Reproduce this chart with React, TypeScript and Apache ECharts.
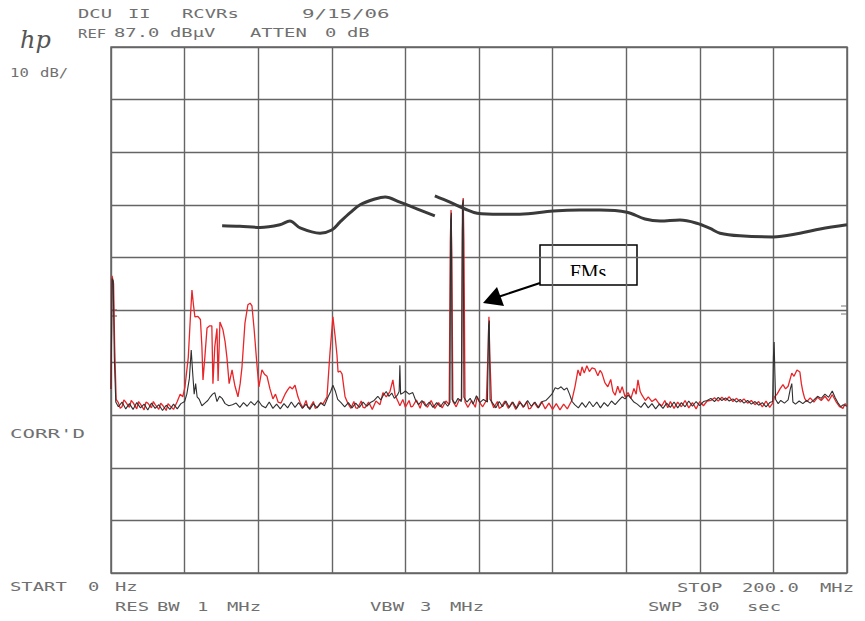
import React, { useEffect, useRef } from "react";
import * as echarts from "echarts";

// Spectrum analyser settings
const REF_LEVEL = 87; // dBµV at top graticule line
const FREQ_START = 0; // MHz
const FREQ_STOP = 200; // MHz
const FREQ_DIV = 20; // MHz / division
const DB_DIV = 10; // dB / division

// Red trace: [MHz, dBµV]
const redTrace: [number, number][] = [
  [0, 22], [0.3, 43.5], [0.7, 42], [1.0, 30], [1.4, 20], [2, 19.4], [2.5, 18.3], [3, 18.6], [3.5, 19.9], [4, 19.5], [5, 18.5], [5.5, 19.8], [6, 19.4],
  [7, 18.2], [7.5, 19.6], [8, 19.1], [9, 18.0], [9.5, 19.5], [10, 19.3], [11, 18.4], [11.5, 19.6], [12, 19.0], [13, 18.1], [13.5, 19.3], [14, 18.9], [15, 17.9], [15.5, 19.2], [16, 18.8],
  [17, 18.1], [18, 19.6], [18.8, 21], [19.5, 20.5], [20.1, 22.4], [21, 28], [21.6, 36], [22, 40.8], [22.4, 38], [22.8, 35.7],
  [23.6, 35.8], [24.3, 35.2], [24.7, 30], [25, 23.7], [25.5, 28], [26.1, 33.6], [26.8, 34], [27.4, 34], [27.7, 23], [28.2, 30],
  [28.8, 33.5], [29.1, 23.5], [29.6, 34.7], [30.4, 33.3], [31, 31], [31.5, 28], [32.1, 23], [32.9, 25.6], [33.3, 24], [33.7, 22.5],
  [34.5, 20.5], [35.1, 23], [35.6, 26.2], [36.4, 34.5], [37.2, 38], [37.8, 38.3], [38.3, 37.8], [38.9, 33.3], [39.7, 26.2], [40.2, 22.4],
  [41, 25.6], [41.7, 24.8], [42.4, 24.4], [43.2, 22], [44, 20.1], [44.7, 21], [45.4, 19.5], [46.2, 19.3], [47.3, 21], [48, 21.8],
  [48.6, 22.4], [49.3, 22], [50, 22.7], [50.8, 20.5], [51.5, 19.2], [52.2, 18.4], [53, 19.8], [53.5, 18.5], [54, 18.4], [55, 19.6], [55.5, 18.3], [56, 18.5],
  [57, 19.4], [57.6, 19.1], [58.7, 20.5], [59.5, 28.8], [60.3, 35.7], [60.9, 32], [61.4, 28.5], [61.7, 25.2], [62.3, 25.4], [62.8, 24.8],
  [63.6, 20.5], [64.4, 19.2], [65.2, 18.3], [66, 19.6], [66.5, 18.4], [67, 18.3], [68, 19.7], [68.5, 18.5], [69, 18.4], [70, 19.5], [71, 18.1], [72, 19.7],
  [73.1, 19], [73.9, 21.3], [74.8, 20.5], [75.8, 21.5], [76.6, 23.7], [77.2, 20.8], [78, 19.6], [78.5, 18.8], [79.3, 20.0], [80, 18.5],
  [81, 19.8], [81.5, 18.6], [82, 18.7], [83, 19.9], [84, 18.3], [84.5, 19.5], [85, 19.6], [86, 18.5], [87, 19.8], [88, 18.3], [89, 19.4], [90, 18.4],
  [91, 19.7], [91.9, 19.0], [92.2, 50], [92.4, 56], [92.6, 48], [92.9, 19.6], [93.8, 18.6], [94.6, 19.9], [95.3, 20], [95.5, 52],
  [95.7, 58.3], [95.9, 50], [96.2, 19.5], [97, 18.5], [98, 19.8], [99, 18.5], [99.5, 20.5], [100.3, 19.3], [101, 18.6], [102, 19.8],
  [102.5, 30], [102.7, 35.7], [102.9, 29], [103.4, 19.5], [104, 18.4], [105, 19.6], [105.5, 18.3], [106, 18.5], [107, 19.7], [108, 18.3], [109, 19.5],
  [110, 18.1], [111, 19.7], [112, 18.5], [113, 19.6], [113.5, 18.2], [114, 18.3], [115, 19.4], [116, 18.4], [117, 19.6], [118, 18.2], [119, 19.3],
  [120, 18.1], [121, 19.2], [122, 18.0], [123, 19.1], [124, 18.2], [125, 19.5], [125.3, 20], [126.1, 22.5], [126.9, 25.6], [127.5, 24.5],
  [128, 26.2], [128.6, 25], [129.3, 26.4], [130, 25.3], [130.7, 26], [131.5, 25.8], [132.3, 24.5], [132.9, 25.5], [133.4, 25], [134.2, 23.2],
  [135, 22.4], [135.8, 23.8], [136.4, 21.5], [137, 20.8], [137.7, 22.5], [138.3, 21.2], [138.9, 22.4], [139.7, 20.5], [140.5, 21.3], [141.3, 20.2],
  [142.1, 22.1], [142.7, 21], [143.2, 23.7], [143.8, 21.5], [144.3, 20.8], [145.2, 19.8], [146, 20.5], [147, 19.6], [148, 20.1], [148.9, 19.2],
  [149.7, 18.8], [150.5, 19.8], [151.3, 18.4], [152, 19.6], [153, 18.3], [154, 19.5], [155, 18.6], [156, 19.8], [157, 18.4], [158, 19.4],
  [159, 18.2], [160, 19.6], [161, 18.8], [162, 19.7], [163, 19.8], [164, 20.3], [165, 19.7], [166, 20.4], [167, 19.8], [168, 20.5],
  [169, 19.6], [170, 20.2], [171, 19.5], [172, 20.1], [173, 19.3], [174, 19.8], [175, 19.0], [176, 19.6], [177, 18.6], [178, 19.7],
  [179, 18.5], [179.8, 19.3], [180.3, 20.5], [181, 21], [181.8, 22], [182.6, 22.8], [183.3, 22], [184, 22.5], [184.6, 24], [185, 25],
  [185.6, 24.4], [186.4, 25.6], [187.2, 25.2], [187.6, 23], [188, 21.5], [188.5, 20.2], [189.1, 19.6], [190, 20.3], [191, 19.5], [192, 20.4],
  [193, 19.8], [194, 20.6], [195, 19.7], [196, 20.9], [197, 19.6], [198, 18.6], [198.9, 18.3], [199.5, 19.2], [200, 18.9],
];

// Black trace: [MHz, dBµV]
const blackTrace: [number, number][] = [
  [0, 22], [0.3, 43], [0.6, 42.5], [0.9, 28], [1.3, 19.5], [2, 18.6], [3, 19.5], [4, 18.2], [5, 19.2], [6, 18.1],
  [7, 19.4], [8, 18.4], [9, 19.1], [10, 18.0], [11, 19.3], [12, 18.3], [13, 19.0], [14, 17.9], [15, 18.9], [16, 18.1],
  [17, 19.1], [18, 18.2], [19, 19.2], [20, 19.6], [20.6, 21], [21.3, 24], [21.8, 29.4], [22.2, 25], [22.6, 21], [23, 23],
  [23.4, 20.5], [24, 20], [24.7, 18.8], [25.5, 19.3], [26.3, 19.8], [27, 20.5], [27.6, 21], [28.2, 21.3], [28.8, 19.6], [29.5, 20.6],
  [30.2, 20.2], [31, 19.2], [32, 18.8], [33, 19.0], [34, 19.3], [35, 18.5], [36, 19.4], [37, 18.7], [38, 19.6], [39, 18.9],
  [40, 19.8], [41, 18.8], [42, 18.4], [43, 19.5], [44, 18.3], [45, 19.1], [46, 18.2], [47, 19.2], [48, 18.4], [49, 19.5],
  [50, 18.5], [51, 19.4], [52, 18.3], [53, 19.1], [54, 18.1], [55, 19.2], [56, 18.4], [57, 19.3], [58, 18.8], [59, 20.5],
  [59.7, 21.5], [60.3, 22.7], [61, 21.5], [61.6, 20], [62.5, 19.4], [63.5, 18.6], [64.5, 19.4], [65.5, 18.4], [66.5, 19.3], [67.5, 18.5],
  [68.5, 19.5], [69.5, 18.7], [70.5, 19.4], [71.5, 19.8], [72.5, 20.6], [73.3, 19.9], [74, 20.8], [74.8, 21.5], [75.5, 20.6], [76.3, 21.2],
  [77, 20.2], [77.8, 20.8], [78.3, 21.5], [78.5, 26.5], [78.7, 21], [79.3, 21.2], [80, 21.6], [81, 21], [82, 21.3], [82.8, 19.8],
  [83.6, 19.0], [84.5, 19.8], [85.5, 18.7], [86.5, 19.5], [87.5, 18.5], [88.5, 19.4], [89.5, 18.6], [90.5, 19.6], [91.5, 18.7], [92.1, 19.4],
  [92.3, 54], [92.5, 55.5], [92.7, 20], [93.5, 19.2], [94.3, 20.2], [95.2, 19.6], [95.5, 57], [95.7, 58], [95.9, 20.4], [96.7, 19.5],
  [97.6, 20.2], [98.4, 19.1], [99.3, 20.7], [100.2, 19.4], [101.2, 20], [102.3, 19.5], [102.6, 34], [102.8, 35], [103, 20], [103.8, 19.2],
  [104.6, 18.4], [105.5, 19.6], [106.4, 18.6], [107.3, 19.7], [108.2, 18.5], [109.2, 19.5], [110.2, 18.3], [111.2, 19.4], [112.2, 18.6], [113.2, 19.8],
  [114.2, 18.7], [115.2, 19.5], [116.2, 18.4], [117.2, 19.6], [118.2, 19.8], [119, 20.4], [119.8, 21], [120.7, 22.2], [121.5, 22], [122.3, 22.4],
  [123.1, 21.8], [123.9, 22.2], [124.6, 21], [125.3, 19.6], [126, 19], [127, 18.4], [128, 19.4], [129, 18.5], [130, 19.6], [131, 18.6],
  [132, 19.5], [133, 18.4], [134, 19.4], [135, 18.7], [136, 19.7], [137, 19.0], [138, 19.8], [138.9, 20.5], [139.7, 20.1], [140.5, 20.8],
  [141.3, 20.2], [142.1, 19.5], [143, 19.1], [144, 18.5], [145, 19.4], [146, 18.4], [147, 19.2], [148, 18.2], [149, 19.1], [150, 18.3],
  [151, 19.3], [152, 18.5], [153, 19.5], [154, 18.4], [155, 19.4], [156, 18.6], [157, 19.7], [158, 18.7], [159, 19.6], [160, 18.8],
  [161, 19.6], [162, 19.8], [163, 20.2], [164, 19.6], [165, 20.4], [166, 19.8], [167, 20.3], [168, 19.7], [169, 20.1], [170, 19.5],
  [171, 20.0], [172, 19.3], [173, 19.8], [174, 19.1], [175, 19.6], [176, 18.9], [177, 19.4], [178, 18.6], [179, 19.4], [179.8, 19.6],
  [180, 28], [180.2, 30.9], [180.4, 25], [180.6, 20], [181.3, 19.2], [182, 19.8], [183, 19.3], [184, 19.9], [184.6, 22], [185, 23],
  [185.3, 19.5], [186, 19.1], [187, 19.7], [188, 19.2], [189, 19.8], [190, 19.3], [191, 19.9], [192, 20.6], [193, 20.2], [194, 21],
  [195, 20.4], [196, 21.6], [196.8, 20.3], [197.5, 19.4], [198.3, 18.6], [199, 19], [200, 18.7],
];

// Hand-drawn heavy curve, two pieces: [MHz, dBµV]
const curveLow: [number, number][] = [
  [30.2, 53], [35, 52.9], [40.5, 52.7], [45.9, 53.2], [48.6, 53.9], [51.4, 52.6], [56.8, 51.6], [60, 52.2],
  [62.2, 53.7], [65, 55.5], [67.7, 57], [71.7, 58.1], [74.5, 58.5], [78.5, 57.5], [84, 56], [88, 54.9],
];
const curveHigh: [number, number][] = [
  [88, 58.7], [92.1, 57.5], [96.2, 56.2], [99.5, 55.4], [105.7, 55.2], [111.1, 55.2], [120.1, 55.8], [127.4, 56],
  [132.9, 56], [140.2, 55.6], [145.1, 54.3], [149.2, 53.9], [154.6, 54.1], [159.2, 53.5], [162.8, 52.5], [165.5, 51.6],
  [170.9, 51.1], [179.9, 50.9], [187.2, 51.6], [192.7, 52.4], [200, 53.2],
];

const rel = (pts: [number, number][]) => pts.map(([f, d]) => [f, +(d - REF_LEVEL).toFixed(2)]);

const TXT = "#707070";
const GRID = "#656565";

const word = (text: string, x: number, y: number, sx = 1.45, size = 13) => ({
  type: "text",
  x,
  y,
  scaleX: sx,
  silent: true,
  style: { text, fill: TXT, font: `${size}px "DejaVu Sans Mono"`, verticalAlign: "middle" },
});

export default function App() {
  const ref = useRef<HTMLDivElement>(null);
  useEffect(() => {
    if (!ref.current) return;
    const chart = echarts.init(ref.current, null, { renderer: "svg" });
    const lineBase = { type: "line", showSymbol: false, symbol: "none", silent: true };
    chart.setOption({
      animation: false,
      backgroundColor: "#ffffff",
      grid: { left: 111, top: 47, right: 18, bottom: 48, show: true, borderColor: GRID, borderWidth: 1.5 },
      xAxis: {
        type: "value",
        min: FREQ_START,
        max: FREQ_STOP,
        interval: FREQ_DIV,
        axisLabel: { show: false },
        axisTick: { show: false },
        axisLine: { show: false },
        splitLine: { show: true, lineStyle: { color: GRID, width: 1.4 } },
      },
      yAxis: {
        type: "value",
        min: -100,
        max: 0,
        interval: DB_DIV,
        axisLabel: { show: false },
        axisTick: { show: false },
        axisLine: { show: false },
        splitLine: { show: true, lineStyle: { color: GRID, width: 1.4 } },
      },
      series: [
        { ...lineBase, name: "red", data: rel(redTrace), lineStyle: { color: "#e8262a", width: 1.3 } },
        { ...lineBase, name: "black", data: rel(blackTrace), lineStyle: { color: "#303030", width: 1.1 } },
        { ...lineBase, name: "curveA", data: rel(curveLow), smooth: 0.35, lineStyle: { color: "#3a3a3a", width: 3 } },
        { ...lineBase, name: "curveB", data: rel(curveHigh), smooth: 0.35, lineStyle: { color: "#3a3a3a", width: 3 } },
      ],
      graphic: [
        {
          type: "text",
          x: 20,
          y: 40,
          silent: true,
          style: { text: "hp", fill: "#555", font: 'italic 24px "DejaVu Serif"', verticalAlign: "middle" },
        },
        word("DCU", 78, 14),
        word("II", 128, 14),
        word("RCVRs", 182, 14),
        word("9/15/06", 302, 14, 1.6),
        word("REF", 78, 33, 1.2),
        word("87.0", 114, 33),
        word("dBµV", 170, 33),
        word("ATTEN", 250, 33),
        word("0", 325, 33),
        word("dB", 347, 33),
        word("10", 10, 72, 1.2),
        word("dB/", 40, 72, 1.2),
        word("CORR'D", 10, 434, 1.6),
        word("START", 10, 587),
        word("0", 88, 587),
        word("Hz", 115, 587),
        word("RES", 115, 607),
        word("BW", 157, 607),
        word("1", 197, 607),
        word("MHz", 227, 607),
        word("VBW", 370, 607),
        word("3", 420, 607),
        word("MHz", 450, 607),
        word("STOP", 677, 588),
        word("200.0", 742, 588),
        word("MHz", 820, 588),
        word("SWP", 648, 607),
        word("30", 697, 607),
        word("sec", 747, 607),
        // small reference markers on the graticule edges
        { type: "line", silent: true, shape: { x1: 112, y1: 310, x2: 117, y2: 310 }, style: { stroke: "#555", lineWidth: 1 } },
        { type: "line", silent: true, shape: { x1: 112, y1: 316, x2: 117, y2: 316 }, style: { stroke: "#555", lineWidth: 1 } },
        { type: "line", silent: true, shape: { x1: 841, y1: 306, x2: 847, y2: 306 }, style: { stroke: "#777", lineWidth: 1 } },
        { type: "line", silent: true, shape: { x1: 841, y1: 314, x2: 847, y2: 314 }, style: { stroke: "#777", lineWidth: 1 } },
        // FMs annotation
        {
          type: "rect",
          silent: true,
          shape: { x: 540, y: 245, width: 97, height: 40 },
          style: { fill: "#ffffff", stroke: "#000", lineWidth: 1.5 },
        },
        {
          type: "text",
          x: 588,
          y: 282,
          silent: true,
          style: { text: "FMs", fill: "#000", font: '20px "Liberation Serif"', align: "center", verticalAlign: "bottom" },
        },
        {
          type: "rect",
          silent: true,
          shape: { x: 542, y: 276, width: 93, height: 7.5 },
          style: { fill: "#ffffff" },
        },
        {
          type: "line",
          silent: true,
          shape: { x1: 540, y1: 283, x2: 498, y2: 297 },
          style: { stroke: "#000", lineWidth: 2 },
        },
        {
          type: "polygon",
          silent: true,
          shape: { points: [[483, 303], [497, 287], [504, 306]] },
          style: { fill: "#000" },
        },
      ],
    });
    return () => chart.dispose();
  }, []);
  return <div ref={ref} style={{ position: "fixed", left: 0, top: 0, width: 865, height: 621, background: "#fff" }} />;
}
